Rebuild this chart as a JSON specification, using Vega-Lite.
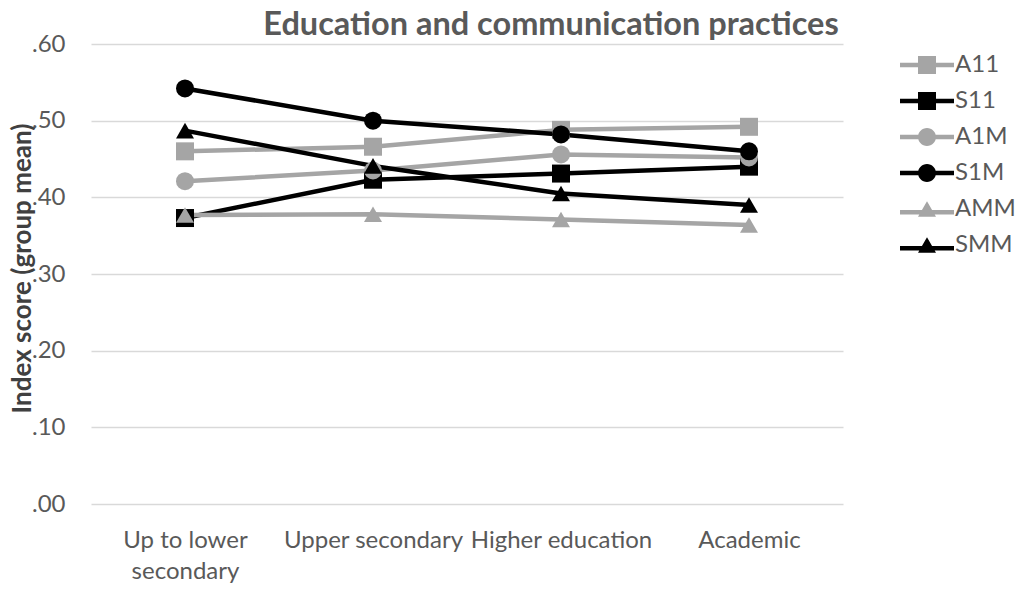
{
  "$schema": "https://vega.github.io/schema/vega-lite/v6.json",
  "width": 752,
  "height": 460,
  "autosize": {"type": "none"},
  "padding": {"left": 91, "top": 44, "right": 178, "bottom": 85},
  "background": "white",
  "config": {
    "font": "Lato",
    "view": {"stroke": null}
  },
  "title": {
    "text": "Education and communication practices",
    "font": "Lato",
    "fontSize": 32.5,
    "fontWeight": "bold",
    "color": "#595959",
    "anchor": "middle",
    "dx": 84,
    "offset": -9
  },
  "data": {
    "values": [
      {"level": "Up to lower secondary", "group": "A11", "score": 0.460},
      {"level": "Upper secondary", "group": "A11", "score": 0.466},
      {"level": "Higher education", "group": "A11", "score": 0.488},
      {"level": "Academic", "group": "A11", "score": 0.492},
      {"level": "Up to lower secondary", "group": "S11", "score": 0.373},
      {"level": "Upper secondary", "group": "S11", "score": 0.423},
      {"level": "Higher education", "group": "S11", "score": 0.431},
      {"level": "Academic", "group": "S11", "score": 0.440},
      {"level": "Up to lower secondary", "group": "A1M", "score": 0.421},
      {"level": "Upper secondary", "group": "A1M", "score": 0.435},
      {"level": "Higher education", "group": "A1M", "score": 0.456},
      {"level": "Academic", "group": "A1M", "score": 0.452},
      {"level": "Up to lower secondary", "group": "S1M", "score": 0.542},
      {"level": "Upper secondary", "group": "S1M", "score": 0.500},
      {"level": "Higher education", "group": "S1M", "score": 0.482},
      {"level": "Academic", "group": "S1M", "score": 0.460},
      {"level": "Up to lower secondary", "group": "AMM", "score": 0.377},
      {"level": "Upper secondary", "group": "AMM", "score": 0.378},
      {"level": "Higher education", "group": "AMM", "score": 0.371},
      {"level": "Academic", "group": "AMM", "score": 0.364},
      {"level": "Up to lower secondary", "group": "SMM", "score": 0.487},
      {"level": "Upper secondary", "group": "SMM", "score": 0.441},
      {"level": "Higher education", "group": "SMM", "score": 0.405},
      {"level": "Academic", "group": "SMM", "score": 0.390}
    ]
  },
  "encoding": {
    "x": {
      "field": "level",
      "type": "nominal",
      "sort": ["Up to lower secondary", "Upper secondary", "Higher education", "Academic"],
      "scale": {"type": "point", "padding": 0.5},
      "axis": {
        "title": null,
        "domain": false,
        "ticks": false,
        "labelAngle": 0,
        "labelFont": "Lato",
        "labelFontSize": 24,
        "labelColor": "#595959",
        "labelPadding": 24,
        "labelLineHeight": 31,
        "labelLimit": 0,
        "labelOverlap": false,
        "labelExpr": "datum.label == 'Up to lower secondary' ? ['Up to lower', 'secondary'] : datum.label"
      }
    },
    "y": {
      "field": "score",
      "type": "quantitative",
      "scale": {"domain": [0, 0.6], "nice": false},
      "axis": {
        "title": "Index score (group mean)",
        "titleFont": "Lato",
        "titleFontSize": 26,
        "titleFontWeight": "bold",
        "titleColor": "#404040",
        "titleX": -69,
        "titleY": 224,
        "titleAngle": -90,
        "titleBaseline": "middle",
        "titleAlign": "center",
        "values": [0, 0.1, 0.2, 0.3, 0.4, 0.5, 0.6],
        "labelExpr": "substring(format(datum.value, '.2f'), 1)",
        "labelFont": "Lato",
        "labelFontSize": 24,
        "labelColor": "#595959",
        "labelPadding": 26,
        "domain": false,
        "ticks": false,
        "grid": true,
        "gridColor": "#D9D9D9",
        "gridWidth": 1.5
      }
    }
  },
  "resolve": {"scale": {"shape": "independent", "color": "independent"}},
  "layer": [
    {
      "mark": {"type": "line", "strokeWidth": 4.5, "strokeCap": "round", "strokeJoin": "round"},
      "encoding": {
        "color": {
          "field": "group",
          "type": "nominal",
          "scale": {
            "domain": ["A11", "S11", "A1M", "S1M", "AMM", "SMM"],
            "range": ["#A5A5A5", "#000000", "#A5A5A5", "#000000", "#A5A5A5", "#000000"]
          },
          "legend": null
        }
      }
    },
    {
      "mark": {"type": "point", "filled": true, "opacity": 1, "size": 324},
      "encoding": {
        "color": {
          "field": "group",
          "type": "nominal",
          "scale": {
            "domain": ["A11", "S11", "A1M", "S1M", "AMM", "SMM"],
            "range": ["#A5A5A5", "#000000", "#A5A5A5", "#000000", "#A5A5A5", "#000000"]
          },
          "legend": null
        },
        "shape": {
          "field": "group",
          "type": "nominal",
          "scale": {
            "domain": ["A11", "S11", "A1M", "S1M", "AMM", "SMM"],
            "range": ["square", "square", "circle", "circle", "triangle-up", "triangle-up"]
          },
          "legend": null
        }
      }
    },
    {
      "mark": {"type": "point", "filled": true, "opacity": 0, "size": 324},
      "encoding": {
        "color": {
          "field": "group",
          "type": "nominal",
          "scale": {
            "domain": ["A11", "S11", "A1M", "S1M", "AMM", "SMM"],
            "range": ["#A5A5A5", "#000000", "#A5A5A5", "#000000", "#A5A5A5", "#000000"]
          },
          "legend": {
            "title": null,
            "orient": "none",
            "legendX": 824,
            "legendY": 9,
            "padding": 0,
            "symbolSize": 324,
            "symbolOpacity": 1,
            "symbolStrokeWidth": 0,
            "symbolOffset": 0,
            "labelOffset": 16,
            "labelFont": "Lato",
            "labelFontSize": 24,
            "labelColor": "#595959",
            "rowPadding": 12
          }
        },
        "shape": {
          "field": "group",
          "type": "nominal",
          "scale": {
            "domain": ["A11", "S11", "A1M", "S1M", "AMM", "SMM"],
            "range": [
              "M-3,-0.25H3V0.25H-3ZM-1,-1H1V1H-1Z",
              "M-3,-0.25H3V0.25H-3ZM-1,-1H1V1H-1Z",
              "M-3,-0.25H3V0.25H-3ZM-1,0A1,1 0 1,1 1,0A1,1 0 1,1 -1,0Z",
              "M-3,-0.25H3V0.25H-3ZM-1,0A1,1 0 1,1 1,0A1,1 0 1,1 -1,0Z",
              "M-3,0.1H3V0.6H-3ZM0,-0.87L1,0.87H-1Z",
              "M-3,0.1H3V0.6H-3ZM0,-0.87L1,0.87H-1Z"
            ]
          },
          "legend": {
            "title": null,
            "orient": "none",
            "legendX": 824,
            "legendY": 9,
            "padding": 0,
            "symbolSize": 324,
            "symbolOpacity": 1,
            "symbolStrokeWidth": 0,
            "symbolOffset": 0,
            "labelOffset": 16,
            "labelFont": "Lato",
            "labelFontSize": 24,
            "labelColor": "#595959",
            "rowPadding": 12
          }
        }
      }
    }
  ]
}
